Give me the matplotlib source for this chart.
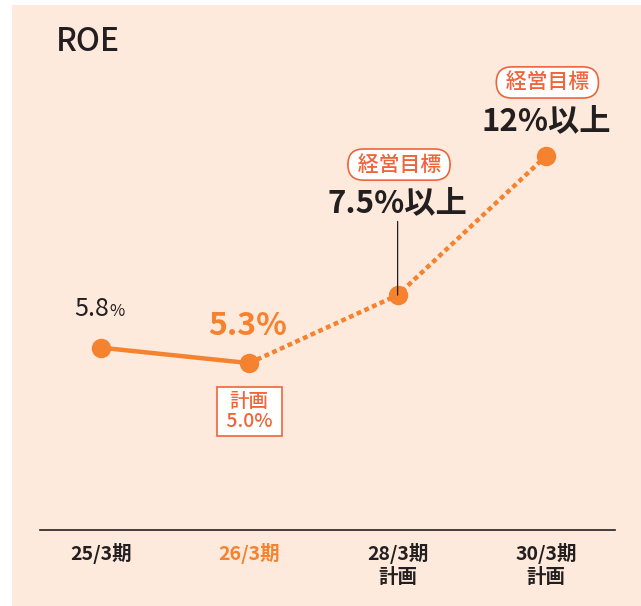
import matplotlib
matplotlib.use("Agg")
import matplotlib.pyplot as plt
from matplotlib.patches import Rectangle

plt.rcParams['font.family'] = ['Noto Sans CJK JP', 'DejaVu Sans']

# data
periods = ['25/3期', '26/3期', '28/3期\n計画', '30/3期\n計画']
roe = [5.8, 5.3, 7.5, 12.0]
plan_26 = '計画\n 5.0% '
goal_label = ' 経営目標 '

peach = '#FDEADC'
orange = '#F5822F'
red_orange = '#F0643A'
dark = '#231F20'

fig = plt.figure(figsize=(6.41, 6.06), dpi=100)
fig.patch.set_facecolor('white')
fig.patches.append(Rectangle((12 / 641, 0), 1, 1 - 5 / 606, transform=fig.transFigure,
                             facecolor=peach, edgecolor='none', zorder=-10))

ax = fig.add_axes([40 / 641, 76 / 606, 575 / 641, 530 / 606])
ax.set_zorder(1)
ax.set_facecolor('none')
ax.set_xlim(-0.41, 3.465)
ax.set_ylim(-0.1, 17.05)
for s in ['top', 'right', 'left']:
    ax.spines[s].set_visible(False)
ax.spines['bottom'].set_color(dark)
ax.spines['bottom'].set_linewidth(1.2)
ax.set_yticks([])
x = list(range(len(periods)))
ax.set_xticks(x)
ax.set_xticklabels(periods, fontsize=14, fontweight='bold', color=dark, linespacing=1.3,
                   verticalalignment='top')
ax.tick_params(axis='x', length=0, pad=9)
ax.get_xticklabels()[1].set_color(orange)

# lines
ax.plot(x[:2], roe[:2], color=orange, lw=3.2, solid_capstyle='butt', zorder=2)
ax.plot(x[1:], roe[1:], color=orange, lw=3.2, linestyle=(0, (1.1, 0.8)),
        dash_capstyle='butt', zorder=2)
ax.plot(x, roe, 'o', color=orange, markersize=13, zorder=3)

# title
ax.text(-0.3, 15.7, 'ROE', fontsize=23, fontweight='medium', color=dark, va='center', ha='left')

# value labels
ax.annotate('5.8', (x[0], roe[0]), xytext=(6, 28), textcoords='offset points',
            fontsize=18, color=dark, ha='right', va='center')
ax.annotate('%', (x[0], roe[0]), xytext=(6, 26), textcoords='offset points',
            fontsize=12, color=dark, ha='left', va='center')
ax.annotate('5.3%', (x[1], roe[1]), xytext=(-1, 27), textcoords='offset points',
            fontsize=23, fontweight='bold', color=orange, ha='center', va='center')
ax.annotate(plan_26, (x[1], roe[1]), xytext=(0, -35), textcoords='offset points',
            fontsize=14, fontweight='medium', color=red_orange, ha='center', va='center',
            linespacing=1.1,
            bbox=dict(boxstyle='square,pad=0.25', facecolor='white', edgecolor=red_orange, lw=1.2))

ax.annotate('7.5%以上', (x[2], roe[2]), xytext=(0, 66), textcoords='offset points',
            fontsize=22.5, fontweight='bold', color=dark, ha='center', va='center')
ax.annotate('12%以上', (x[3], roe[3]), xytext=(0, 25), textcoords='offset points',
            fontsize=22.5, fontweight='bold', color=dark, ha='center', va='center')
for i, dy in [(2, 94), (3, 53)]:
    ax.annotate(goal_label, (x[i], roe[i]), xytext=(1, dy), textcoords='offset points',
                fontsize=15, fontweight='medium', color=red_orange, ha='center', va='center',
                bbox=dict(boxstyle='round,pad=0.22,rounding_size=0.75', facecolor='white',
                          edgecolor=red_orange, lw=1.2))

# leader line for 28/3
ax.annotate('', (x[2], roe[2]), xytext=(0, 53), textcoords='offset points',
            arrowprops=dict(arrowstyle='-', color=dark, lw=0.9, shrinkA=0, shrinkB=0))

fig.savefig('out.png', dpi=100)
